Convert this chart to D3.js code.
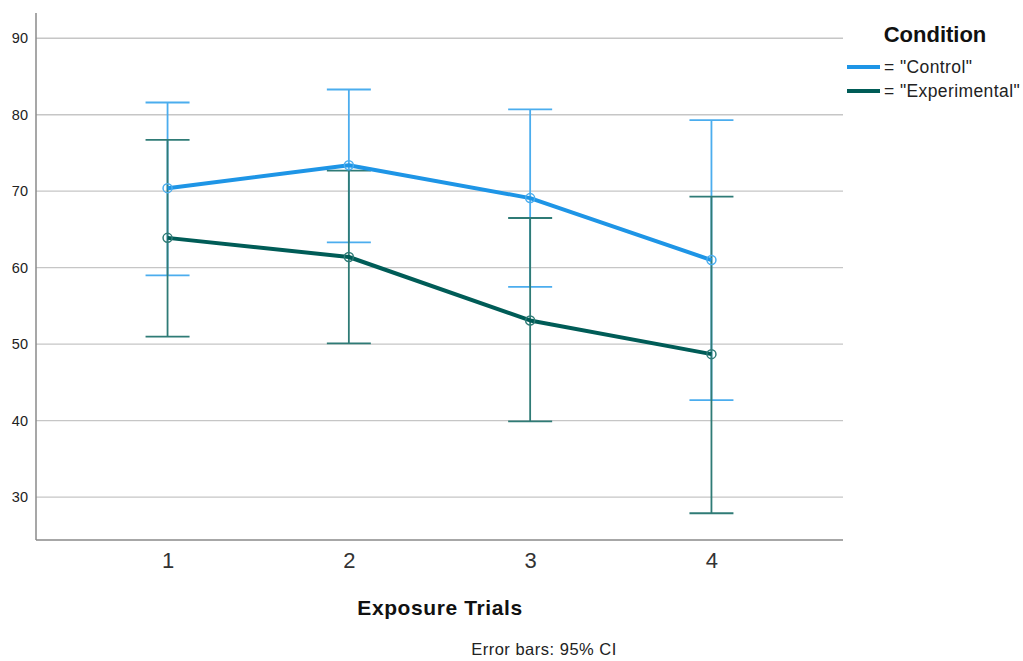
<!DOCTYPE html>
<html>
<head>
<meta charset="utf-8">
<script src="https://cdn.jsdelivr.net/npm/d3@7"></script>
<style>
  body { margin: 0; background: #fff; }
  svg { display: block; font-family: Arial, "Liberation Sans", sans-serif; }
</style>
</head>
<body>
<div id="app"></div>
<script>
const trials = [1, 2, 3, 4]
const yTicks = [30, 40, 50, 60, 70, 80, 90]

const controlMean = [70.4, 73.4, 69.1, 61.0]
const controlLow = [59.0, 63.3, 57.5, 42.7]
const controlHigh = [81.6, 83.3, 80.7, 79.3]

const expMean = [63.9, 61.4, 53.1, 48.7]
const expLow = [51.0, 50.1, 39.9, 27.9]
const expHigh = [76.7, 72.7, 66.5, 69.3]

const seriesNames = ['= "Control"', '= "Experimental"']

const size = { width: 1023, height: 661 }
const plot = { left: 36, right: 843, top: 13, bottom: 540 }

const series = [
  { name: seriesNames[0], mean: controlMean, low: controlLow, high: controlHigh,
    line: '#1e95e6', bar: '#4badee' },
  { name: seriesNames[1], mean: expMean, low: expLow, high: expHigh,
    line: '#005c57', bar: '#2f7b76' }
]

const svg = d3.select('#app').append('svg')
  .attr('width', size.width)
  .attr('height', size.height)

const x = d3.scalePoint()
  .domain(trials)
  .range([plot.left, plot.right])
  .padding(0.7256)

const y = d3.scaleLinear()
  .domain([24.4, 93.3])
  .range([plot.bottom, plot.top])

// gridlines
svg.append('g')
  .selectAll('line')
  .data(yTicks)
  .enter()
  .append('line')
  .attr('x1', plot.left)
  .attr('x2', plot.right)
  .attr('y1', d => y(d))
  .attr('y2', d => y(d))
  .attr('stroke', '#c6c6c6')
  .attr('stroke-width', 1.3)

// y axis
const yAxis = svg.append('g')
  .attr('transform', `translate(${plot.left},0)`)
  .call(d3.axisLeft(y).tickValues(yTicks).tickSize(0).tickPadding(8))
yAxis.select('.domain').attr('stroke', '#8a8a8a').attr('stroke-width', 1.5)
  .attr('d', `M0,${plot.top}V${plot.bottom}`)
yAxis.selectAll('text').attr('font-size', 14.5).attr('fill', '#222')
  .attr('font-family', 'Arial, "Liberation Sans", sans-serif')

// x axis
const xAxis = svg.append('g')
  .attr('transform', `translate(0,${plot.bottom})`)
  .call(d3.axisBottom(x).tickSize(0).tickPadding(12))
xAxis.select('.domain').attr('stroke', '#8a8a8a').attr('stroke-width', 1.5)
  .attr('d', `M${plot.left},0H${plot.right}`)
xAxis.selectAll('text').attr('font-size', 22).attr('fill', '#333')
  .attr('font-family', 'Arial, "Liberation Sans", sans-serif')

const capHalf = 22

series.forEach(s => {
  const g = svg.append('g')
  const bars = g.selectAll('g.bar')
    .data(trials.map((t, i) => ({ t, low: s.low[i], high: s.high[i] })))
    .enter()
    .append('g')
    .attr('class', 'bar')
    .attr('stroke', s.bar)
    .attr('stroke-width', 1.8)
  bars.append('line')
    .attr('x1', d => x(d.t)).attr('x2', d => x(d.t))
    .attr('y1', d => y(d.low)).attr('y2', d => y(d.high))
  bars.append('line')
    .attr('x1', d => x(d.t) - capHalf).attr('x2', d => x(d.t) + capHalf)
    .attr('y1', d => y(d.high)).attr('y2', d => y(d.high))
  bars.append('line')
    .attr('x1', d => x(d.t) - capHalf).attr('x2', d => x(d.t) + capHalf)
    .attr('y1', d => y(d.low)).attr('y2', d => y(d.low))
})

series.forEach(s => {
  const pts = trials.map((t, i) => ({ t, v: s.mean[i] }))
  svg.append('path')
    .datum(pts)
    .attr('fill', 'none')
    .attr('stroke', s.line)
    .attr('stroke-width', 4)
    .attr('stroke-linejoin', 'round')
    .attr('d', d3.line().x(d => x(d.t)).y(d => y(d.v)))
  svg.append('g')
    .selectAll('circle')
    .data(pts)
    .enter()
    .append('circle')
    .attr('cx', d => x(d.t))
    .attr('cy', d => y(d.v))
    .attr('r', 4.5)
    .attr('fill', 'none')
    .attr('stroke', s.bar)
    .attr('stroke-width', 1.5)
})

// axis title and footnote
svg.append('text')
  .attr('x', 440).attr('y', 615)
  .attr('text-anchor', 'middle')
  .attr('font-size', 21).attr('font-weight', 'bold').attr('fill', '#111')
  .attr('letter-spacing', 0.6)
  .text('Exposure Trials')

svg.append('text')
  .attr('x', 544).attr('y', 655)
  .attr('text-anchor', 'middle')
  .attr('font-size', 16.5).attr('fill', '#222')
  .attr('letter-spacing', 0.5)
  .text('Error bars: 95% CI')

// legend
const legend = svg.append('g')
legend.append('text')
  .attr('x', 935).attr('y', 42)
  .attr('text-anchor', 'middle')
  .attr('font-size', 22).attr('font-weight', 'bold').attr('fill', '#111')
  .text('Condition')

const items = legend.selectAll('g.item')
  .data(series)
  .enter()
  .append('g')
  .attr('class', 'item')
  .attr('transform', (d, i) => `translate(847,${67 + i * 24})`)
items.append('line')
  .attr('x1', 0).attr('x2', 33)
  .attr('stroke', d => d.line)
  .attr('stroke-width', 4)
items.append('text')
  .attr('x', 37).attr('y', 6)
  .attr('font-size', 17.5).attr('fill', '#222')
  .attr('letter-spacing', 0.4)
  .text(d => d.name)
</script>
</body>
</html>
